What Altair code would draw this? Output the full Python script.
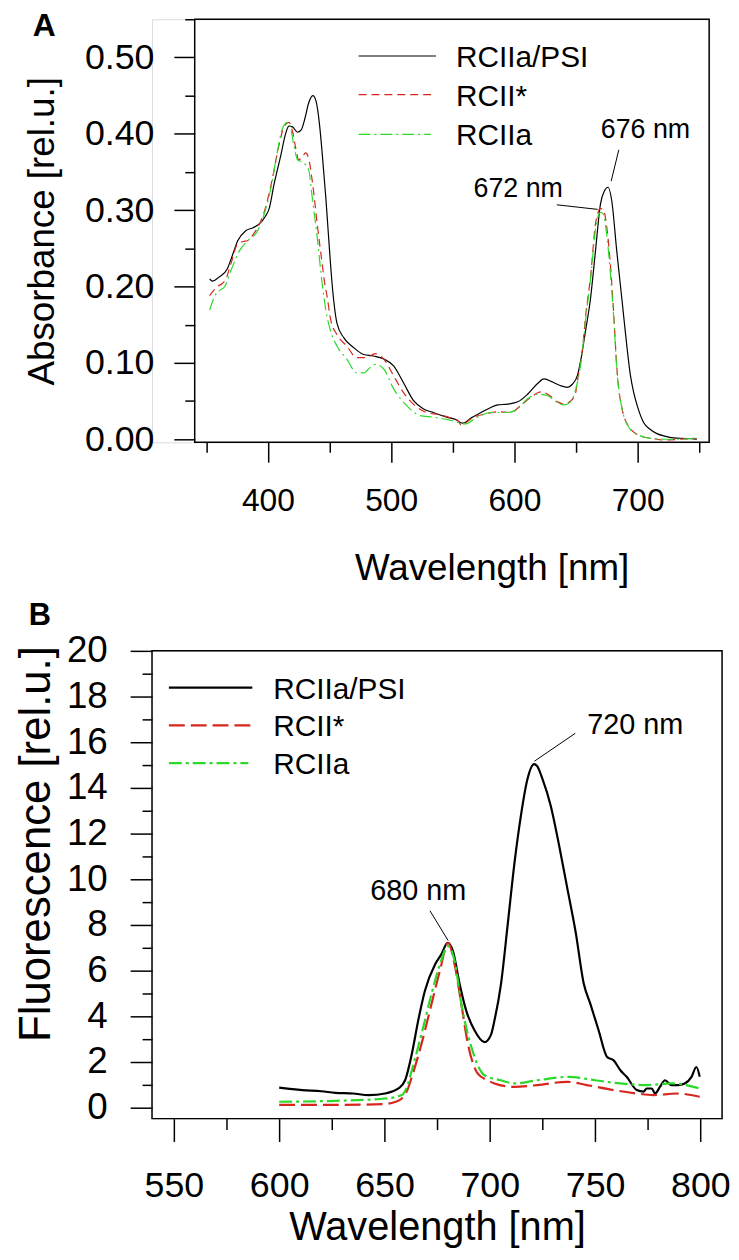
import altair as alt
import pandas as pd

FONT = "Liberation Sans"
SERIES = ["RCIIa/PSI", "RCII*", "RCIIa"]
COLORS = ["#000000", "#d7261e", "#2bd92b"]

# ---------------- Panel A: absorbance ----------------
A_PSI_WL = [352.7, 355, 360, 367, 371, 375.5, 382, 388, 393, 398, 401, 405, 410.5, 414, 417, 420, 424, 427,
            430, 433, 436.5, 439, 442, 444, 447, 449, 451, 453.5, 456, 461.5, 469.5, 477.7, 485.7, 494, 502,
            510, 518, 526, 534, 545, 552, 558, 565, 573, 580, 586.5, 594.6, 602.7, 610.7, 618.8, 624, 631,
            637.6, 643, 647, 651, 654, 657.5, 661.8, 665.8, 669.8, 673, 676, 679, 683, 687.3, 691.5, 694,
            696.8, 700, 704.8, 710, 715.6, 722, 729, 740, 748]
A_PSI_VAL = [0.210, 0.207, 0.212, 0.223, 0.240, 0.260, 0.273, 0.277, 0.282, 0.292, 0.302, 0.334, 0.372, 0.398,
             0.410, 0.409, 0.402, 0.405, 0.420, 0.440, 0.450, 0.443, 0.410, 0.375, 0.316, 0.270, 0.225, 0.180,
             0.152, 0.133, 0.120, 0.111, 0.109, 0.105, 0.096, 0.074, 0.051, 0.040, 0.035, 0.029, 0.026, 0.021,
             0.028, 0.035, 0.041, 0.045, 0.046, 0.049, 0.059, 0.073, 0.079, 0.075, 0.070, 0.068, 0.072, 0.083,
             0.105, 0.140, 0.185, 0.247, 0.308, 0.325, 0.330, 0.312, 0.247, 0.182, 0.118, 0.085, 0.061, 0.042,
             0.022, 0.013, 0.0074, 0.004, 0.0017, 0.001, 0.0]

A_RCII_WL = [352.7, 356, 359, 363, 366, 370, 375.5, 380, 383.5, 388, 391.6, 398, 403.7, 409, 413, 417, 420,
             422.6, 425, 428, 430.6, 433, 436, 440, 444, 446, 448, 451, 456, 464, 472, 480, 487, 494, 502, 510,
             518, 528.7, 539.5, 550, 554, 557, 561, 565, 575.8, 586.5, 597, 605, 613.4, 621.5, 627, 635, 640,
             645.6, 649.7, 651, 655, 658, 661.8, 665.8, 669.8, 672, 675.3, 678, 680.7, 683, 687.3, 694, 700,
             704.8, 712, 721, 735, 748]
A_RCII_VAL = [0.188, 0.195, 0.200, 0.204, 0.210, 0.230, 0.256, 0.259, 0.260, 0.268, 0.277, 0.303, 0.342, 0.385,
              0.409, 0.415, 0.403, 0.381, 0.366, 0.370, 0.375, 0.368, 0.338, 0.282, 0.230, 0.205, 0.187, 0.156,
              0.137, 0.122, 0.107, 0.107, 0.112, 0.105, 0.083, 0.061, 0.046, 0.035, 0.032, 0.027, 0.025, 0.018,
              0.022, 0.027, 0.033, 0.036, 0.035, 0.044, 0.055, 0.062, 0.059, 0.049, 0.046, 0.050, 0.061, 0.075,
              0.115, 0.165, 0.213, 0.282, 0.302, 0.301, 0.273, 0.226, 0.161, 0.096, 0.040, 0.014, 0.006, 0.003,
              0.001, -0.001, 0.0, 0.001]

A_RCIIA_WL = [352.7, 356.7, 361, 365, 370, 377, 383.5, 391.6, 397, 402.4, 407.7, 411.8, 416, 418.5, 421, 424,
              429, 433, 436, 440, 444, 447, 451, 456, 464, 472, 477.7, 483, 487, 494, 502, 512.6, 523.4, 534,
              550, 559.7, 570, 581, 594.6, 602.7, 610.7, 618.8, 627, 635, 640, 645.6, 651, 655, 658, 661.8,
              665.8, 669.8, 672, 675.3, 678, 680.7, 683, 687.3, 694, 700, 704.8, 712, 721, 735, 748]
A_RCIIA_VAL = [0.169, 0.187, 0.195, 0.200, 0.221, 0.247, 0.260, 0.273, 0.295, 0.329, 0.377, 0.407, 0.415, 0.407,
               0.385, 0.366, 0.362, 0.353, 0.316, 0.264, 0.204, 0.169, 0.141, 0.122, 0.105, 0.087, 0.087, 0.094,
               0.098, 0.092, 0.066, 0.044, 0.031, 0.029, 0.024, 0.020, 0.029, 0.035, 0.035, 0.040, 0.053, 0.059,
               0.057, 0.048, 0.045, 0.049, 0.074, 0.113, 0.160, 0.210, 0.275, 0.297, 0.295, 0.262, 0.215, 0.155,
               0.094, 0.040, 0.013, 0.006, 0.003, 0.001, 0.0, 0.0, 0.002]

# ---------------- Panel B: fluorescence ----------------
B_PSI_WL = [600, 605, 611, 620, 626.7, 635, 642.5, 650.3, 656.6, 659.8, 663, 666, 669.2, 674, 677, 680, 682.5,
            685.7, 688.8, 692.8, 697.5, 700.6, 702.2, 705.3, 708.5, 711.6, 714.8, 717.9, 721, 722.5, 725, 728.9,
            732.9, 736.8, 740.7, 744.7, 747.8, 751.7, 755.7, 758.8, 762, 765, 769.8, 773, 774.5, 776.9, 778.5,
            780.8, 783.2, 786.3, 789.5, 792.6, 795.8, 798.1, 799.7]
B_PSI_VAL = [0.88, 0.82, 0.77, 0.72, 0.65, 0.62, 0.55, 0.62, 0.84, 1.20, 2.36, 3.81, 5.12, 6.27, 6.71, 7.22, 6.86,
             5.40, 4.25, 3.38, 2.87, 3.20, 3.81, 5.40, 8.01, 10.62, 12.80, 14.39, 15.04, 14.95, 14.39, 13.23,
             11.49, 9.61, 7.73, 5.40, 4.53, 3.38, 2.22, 2.07, 1.64, 1.35, 0.77, 0.70, 0.84, 0.84, 0.62, 0.91,
             1.20, 0.99, 0.99, 1.06, 1.35, 1.78, 1.35]

B_RCII_WL = [600, 626.7, 650.3, 655, 658.2, 661, 663, 667.6, 672.3, 676.3, 680.2, 683.3, 686.5, 689.6, 694.3,
             699, 702.2, 711.6, 722.6, 736.8, 746, 758.8, 769.8, 777.7, 788.7, 799.7]
B_RCII_VAL = [0.12, 0.12, 0.16, 0.25, 0.40, 0.80, 1.35, 2.80, 4.53, 5.99, 7.22, 6.27, 4.53, 2.80, 1.49, 1.20, 1.06,
              0.91, 0.99, 1.13, 0.99, 0.77, 0.62, 0.55, 0.62, 0.48]

B_RCIIA_WL = [600, 626.7, 650.3, 658.2, 661, 663, 667.6, 672.3, 676.3, 680.2, 683.3, 686.5, 690.8, 697.5, 705.3,
              711.6, 722.6, 737.7, 750, 762, 774.5, 786.3, 799.7]
B_RCIIA_VAL = [0.26, 0.30, 0.40, 0.55, 1.00, 1.64, 3.23, 4.97, 6.27, 7.07, 6.42, 4.53, 2.80, 1.42, 1.20, 1.06,
               1.20, 1.35, 1.20, 1.06, 0.99, 1.06, 0.84]

# axis domains and ticks
A_X_DOMAIN = [340.6, 758.0]
A_Y_DOMAIN = [-0.004, 0.55]
B_X_DOMAIN = [539.6, 810.3]
B_Y_DOMAIN = [-0.48, 20.0]
A_X_TICKS = [350, 400, 450, 500, 550, 600, 650, 700, 750]
A_Y_TICKS = [0.0, 0.05, 0.1, 0.15, 0.2, 0.25, 0.3, 0.35, 0.4, 0.45, 0.5, 0.55]
B_X_TICKS = [550, 575, 600, 625, 650, 675, 700, 725, 750, 775, 800]
B_Y_TICKS = list(range(0, 21))

# peak annotations
A_PEAK_LABEL = ["676 nm", "672 nm"]
A_PEAK_TX = [706.3, 603.1]
A_PEAK_TY = [0.4045, 0.328]
A_LEAD_X1 = [684.7, 634.4]
A_LEAD_Y1 = [0.379, 0.307]
A_LEAD_X2 = [678.5, 667.6]
A_LEAD_Y2 = [0.338, 0.301]

B_PEAK_LABEL = ["720 nm", "680 nm"]
B_PEAK_TX = [769.1, 666.0]
B_PEAK_TY = [16.74, 9.48]
B_LEAD_X1 = [740.6, 671.6]
B_LEAD_Y1 = [16.39, 8.62]
B_LEAD_X2 = [721.2, 680.2]
B_LEAD_Y2 = [15.17, 7.32]


def cond(test, a, b):
    return {"condition": {"test": test, "value": a}, "value": b}


def axis(values, major_test, major_len, minor_len, label_size, pad, title, title_size, **kw):
    return alt.Axis(
        values=values,
        tickSize=cond(major_test, major_len, minor_len),
        labelExpr=f"({major_test}) ? datum.label : ''",
        labelFont=FONT, labelFontSize=label_size, labelColor="black", labelPadding=pad,
        labelOverlap=False, labelFlush=False,
        tickColor="black", tickWidth=1.5, domain=False, grid=False,
        title=title, titleFont=FONT, titleFontSize=title_size, titleFontWeight="normal",
        titleColor="black", **kw)


def build_panel(curves, xdom, ydom, width, height, shift, xaxis, yaxis, line_w, dashes,
                legend_x, legend_x2, legend_tx, legend_y, legend_size,
                ann, ann_size, letter, letter_pos, letter_size):
    xs = alt.Scale(domain=xdom, range=[shift, width], nice=False, zero=False)
    ys = alt.Scale(domain=ydom, nice=False, zero=False)
    X = alt.X("wl:Q", scale=xs, axis=xaxis)
    Y = alt.Y("val:Q", scale=ys, axis=yaxis)
    layers = []
    frame = pd.DataFrame({"wl": [xdom[0]], "wl2": [xdom[1]], "val": [ydom[0]], "val2": [ydom[1]]})
    layers.append(alt.Chart(frame).mark_rect(filled=False, stroke="black", strokeWidth=1.5)
                  .encode(x=X, x2="wl2:Q", y=Y, y2="val2:Q"))
    for (wl, val), color, dash in zip(curves, COLORS, dashes):
        kw = dict(color=color, strokeWidth=line_w, interpolate="monotone", clip=True)
        if dash:
            kw["strokeDash"] = dash
        layers.append(alt.Chart(pd.DataFrame({"wl": wl, "val": val})).mark_line(**kw).encode(x=X, y=Y))
    # legend
    for i, (name, color, dash) in enumerate(zip(SERIES, COLORS, dashes)):
        d = pd.DataFrame({"label": [name]})
        kw = dict(color=color, strokeWidth=line_w)
        if dash:
            kw["strokeDash"] = dash
        layers.append(alt.Chart(d).mark_rule(**kw).encode(
            x=alt.value(legend_x), x2=alt.value(legend_x2[i]), y=alt.value(legend_y[i])))
        layers.append(alt.Chart(d).mark_text(font=FONT, fontSize=legend_size, align="left",
                                             baseline="middle", color="black").encode(
            x=alt.value(legend_tx), y=alt.value(legend_y[i] + 2), text="label:N"))
    # annotations
    lab, tx, ty, x1, y1, x2, y2 = ann
    adf = pd.DataFrame({"label": lab, "wl": tx, "val": ty})
    ldf = pd.DataFrame({"wl": x1, "val": y1, "wl2": x2, "val2": y2})
    layers.append(alt.Chart(ldf).mark_rule(color="black", strokeWidth=1)
                  .encode(x=X, y=Y, x2="wl2:Q", y2="val2:Q"))
    layers.append(alt.Chart(adf).mark_text(font=FONT, fontSize=ann_size, align="center",
                                           baseline="middle", color="black")
                  .encode(x=X, y=Y, text="label:N"))
    # panel letter
    layers.append(alt.Chart(pd.DataFrame({"t": [letter]})).mark_text(
        font=FONT, fontSize=letter_size, fontWeight="bold", align="left", baseline="alphabetic",
        color="black").encode(x=alt.value(letter_pos[0]), y=alt.value(letter_pos[1]), text="t:N"))
    return alt.layer(*layers).properties(width=width, height=height)


A_TEST_X = "datum.value % 100 === 0"
A_TEST_Y = "abs(datum.value*10 - round(datum.value*10)) < 0.001"
axA_x = axis(A_X_TICKS, A_TEST_X, 20, 10, 32, 24, "Wavelength [nm]", 37,
             titleX=342, titleY=138, titleBaseline="alphabetic", titleAlign="center")
axA_y = axis(A_Y_TICKS, A_TEST_Y, 21, 10, 36, 20, "Absorbance [rel.u.]", 37,
             format=".2f", offset=-43, titleX=-142, titleY=213, titleAngle=270,
             titleBaseline="alphabetic", titleAlign="center")

B_TEST_X = "datum.value % 50 === 0"
B_TEST_Y = "datum.value % 2 === 0"
axB_x = axis(B_X_TICKS, B_TEST_X, 23, 11, 36, 27, "Wavelength [nm]", 40,
             titleY=122, titleBaseline="alphabetic", titleAlign="center")
axB_y = axis(B_Y_TICKS, B_TEST_Y, 22, 10, 37, 23, "Fluorescence [rel.u.]", 44,
             titleX=-103, titleY=194, titleAngle=270, titleBaseline="alphabetic", titleAlign="center")

panelA = build_panel(
    [(A_PSI_WL, A_PSI_VAL), (A_RCII_WL, A_RCII_VAL), (A_RCIIA_WL, A_RCIIA_VAL)],
    A_X_DOMAIN, A_Y_DOMAIN, 561, 426, 43, axA_x, axA_y, 1.2,
    [None, [8, 5], [12, 4, 2, 4]],
    208, [286, 286, 281], 306, [37, 76, 116], 30,
    (A_PEAK_LABEL, A_PEAK_TX, A_PEAK_TY, A_LEAD_X1, A_LEAD_Y1, A_LEAD_X2, A_LEAD_Y2), 27,
    "A", (-120, 17), 32)

panelB = build_panel(
    [(B_PSI_WL, B_PSI_VAL), (B_RCII_WL, B_RCII_VAL), (B_RCIIA_WL, B_RCIIA_VAL)],
    B_X_DOMAIN, B_Y_DOMAIN, 574, 471, 0, axB_x, axB_y, 2.2,
    [None, [16, 6], [13, 4, 3, 4]],
    17, [101, 101, 97], 122, [37, 75, 113], 30,
    (B_PEAK_LABEL, B_PEAK_TX, B_PEAK_TY, B_LEAD_X1, B_LEAD_Y1, B_LEAD_X2, B_LEAD_Y2), 29,
    "B", (-124, -26), 31)

chart = alt.vconcat(panelA, panelB, spacing=12).properties(
    padding={"left": 6, "top": -12, "right": 0, "bottom": 0}
).configure_view(stroke=None).configure(background="white")

chart.save("out.html", embed_options={"renderer": "svg", "actions": False})
